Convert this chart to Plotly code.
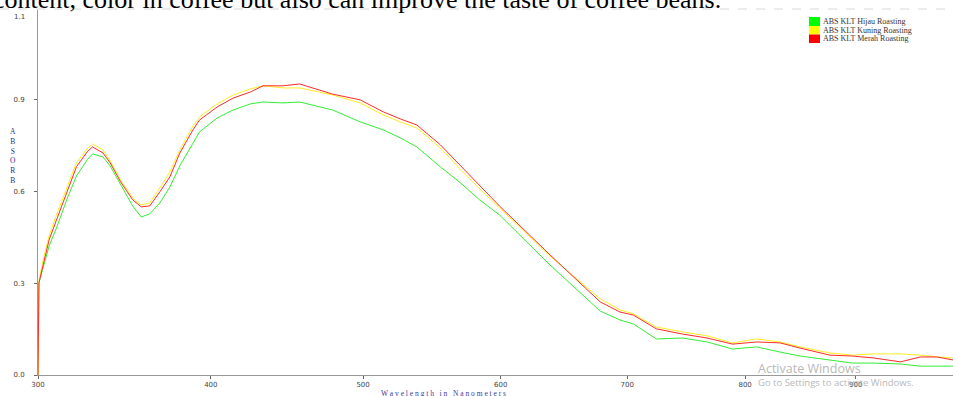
import numpy as np
import plotly.graph_objects as go

# ---------------- data ----------------
wavelength = [300, 300.5, 303, 306, 310, 316, 321, 327, 330, 336, 340,
              346, 353, 358, 363, 369, 375, 381, 389, 393, 404,
              414, 425, 433, 446, 457, 479, 498, 514, 526, 538,
              555, 570, 584, 599, 638, 678, 694, 705, 724, 746,
              767, 789, 810, 831, 849, 876, 897, 916, 942, 961,
              977, 993]

abs_hijau = [0.0, 0.301, 0.357, 0.422, 0.481, 0.579, 0.651, 0.704, 0.723, 0.713, 0.684,
             0.625, 0.553, 0.517, 0.527, 0.563, 0.615, 0.684, 0.759, 0.795, 0.841,
             0.867, 0.887, 0.893, 0.890, 0.893, 0.867, 0.828, 0.802, 0.776, 0.746,
             0.681, 0.628, 0.573, 0.524, 0.360, 0.209, 0.180, 0.167, 0.118, 0.121,
             0.108, 0.085, 0.092, 0.075, 0.062, 0.049, 0.039, 0.039, 0.036, 0.029,
             0.029, 0.029]

abs_kuning = [0.0, 0.308, 0.383, 0.455, 0.524, 0.618, 0.694, 0.740, 0.756, 0.736, 0.700,
              0.638, 0.579, 0.556, 0.563, 0.612, 0.664, 0.736, 0.815, 0.844, 0.887,
              0.916, 0.936, 0.946, 0.939, 0.939, 0.916, 0.890, 0.851, 0.828, 0.808,
              0.743, 0.671, 0.609, 0.546, 0.389, 0.249, 0.213, 0.200, 0.157, 0.141,
              0.128, 0.105, 0.118, 0.108, 0.092, 0.072, 0.065, 0.069, 0.069, 0.065,
              0.059, 0.056]

abs_merah = [0.0, 0.301, 0.366, 0.442, 0.507, 0.605, 0.681, 0.730, 0.746, 0.726, 0.694,
             0.632, 0.573, 0.550, 0.553, 0.599, 0.648, 0.726, 0.802, 0.834, 0.877,
             0.906, 0.926, 0.946, 0.946, 0.952, 0.919, 0.900, 0.861, 0.838, 0.818,
             0.753, 0.684, 0.618, 0.553, 0.393, 0.239, 0.206, 0.196, 0.151, 0.134,
             0.121, 0.101, 0.108, 0.105, 0.088, 0.065, 0.062, 0.056, 0.043, 0.059,
             0.059, 0.049]

series_names = ["ABS KLT Hijau Roasting", "ABS KLT Kuning Roasting", "ABS KLT Merah Roasting"]
line_colors = ["#33ee33", "#ffee22", "#ff2a2a"]
box_colors = ["#00ff00", "#ffff00", "#ff0000"]
x_ticks = [300, 400, 500, 600, 700, 800, 900]
y_ticks = [0.0, 0.3, 0.6, 0.9]

# ---------------- layout geometry ----------------
W, H = 953, 396
ML, MR, MT, MB = 38, 0, 10, 21
PW, PH = W - ML - MR, H - MT - MB
X_MIN, X_MAX = 300, 992.7
Y_MAX = 1.194


def px(x):
    return (x - ML) / PW


def py(y):
    return (H - MB - y) / PH


fig = go.Figure()
for name, vals, col in zip(series_names, [abs_hijau, abs_kuning, abs_merah], line_colors):
    fig.add_trace(go.Scatter(
        x=np.sqrt(wavelength), y=vals, mode="lines", name=name,
        line=dict(color=col, width=1), showlegend=False,
    ))

axis_font = dict(family="DejaVu Sans", size=7, color="#444444")

fig.update_layout(
    width=W, height=H, autosize=False,
    margin=dict(l=ML, r=MR, t=MT, b=MB, pad=0),
    paper_bgcolor="white", plot_bgcolor="white",
    showlegend=False,
    xaxis=dict(
        range=[np.sqrt(X_MIN), np.sqrt(X_MAX)],
        tickvals=np.sqrt(x_ticks), ticktext=[str(v) for v in x_ticks],
        showgrid=False, zeroline=False, showline=True, linecolor="#999999", linewidth=1,
        ticks="outside", ticklen=3, tickcolor="#666666", tickfont=axis_font,
        automargin=False,
    ),
    yaxis=dict(
        range=[0, Y_MAX],
        tickvals=y_ticks, ticktext=[f"{v:.1f}" for v in y_ticks],
        showgrid=False, zeroline=False, showline=True, linecolor="#999999", linewidth=1,
        ticks="outside", ticklen=3, tickcolor="#666666", tickfont=axis_font,
        ticklabelstandoff=8, automargin=False,
    ),
)

ann = []
ann.append(dict(xref="paper", yref="paper", x=px(19), y=py(17), text="1.1",
                showarrow=False, font=axis_font, xanchor="center", yanchor="middle"))
ann.append(dict(xref="paper", yref="paper", x=px(13), y=py(156),
                text="A<br>B<br>S<br>O<br>R<br>B", showarrow=False,
                font=dict(family="Liberation Serif", size=7.5, color="#2b2b8f"),
                xanchor="center", yanchor="middle"))
ann.append(dict(xref="paper", yref="paper", x=px(443), y=py(393),
                text="W a v e l e n g t h   i n   N a n o m e t e r s", showarrow=False,
                font=dict(family="Liberation Serif", size=7.5, color="#3a3a9a"),
                xanchor="center", yanchor="middle"))
ann.append(dict(xref="paper", yref="paper", x=px(-9), y=py(16),
                text="content, color in coffee but also can improve the taste of coffee beans.",
                showarrow=False,
                font=dict(family="Liberation Serif", size=26, color="#000000"),
                xanchor="left", yanchor="bottom"))

shapes = []
shapes.append(dict(type="line", xref="paper", yref="paper", x0=px(0), x1=px(W), y0=py(9), y1=py(9),
                   line=dict(color="#d8d8d8", width=1, dash="dash")))

leg_rows = [(17, 26), (26, 34.5), (34.5, 43)]
for (y0, y1), name, c in zip(leg_rows, series_names, box_colors):
    shapes.append(dict(type="rect", xref="paper", yref="paper",
                       x0=px(809), x1=px(820), y0=py(y1), y1=py(y0),
                       fillcolor=c, line=dict(width=0)))
    ann.append(dict(xref="paper", yref="paper", x=px(821), y=py((y0 + y1) / 2),
                    text=name, showarrow=False,
                    font=dict(family="Liberation Serif", size=8, color="#333333"),
                    xanchor="left", yanchor="middle"))

ann.append(dict(xref="paper", yref="paper", x=px(756), y=py(368), text="Activate Windows",
                showarrow=False, font=dict(family="Open Sans", size=12.5, color="#b8b8b8"),
                xanchor="left", yanchor="middle"))
ann.append(dict(xref="paper", yref="paper", x=px(756), y=py(382), text="Go to Settings to activate Windows.",
                showarrow=False, font=dict(family="Open Sans", size=9.5, color="#b8b8b8"),
                xanchor="left", yanchor="middle"))

fig.update_layout(annotations=ann, shapes=shapes)
fig.write_html("out.html",
               config={"displayModeBar": False},
               post_script="document.body.style.margin='0';document.body.style.overflow='hidden';")
